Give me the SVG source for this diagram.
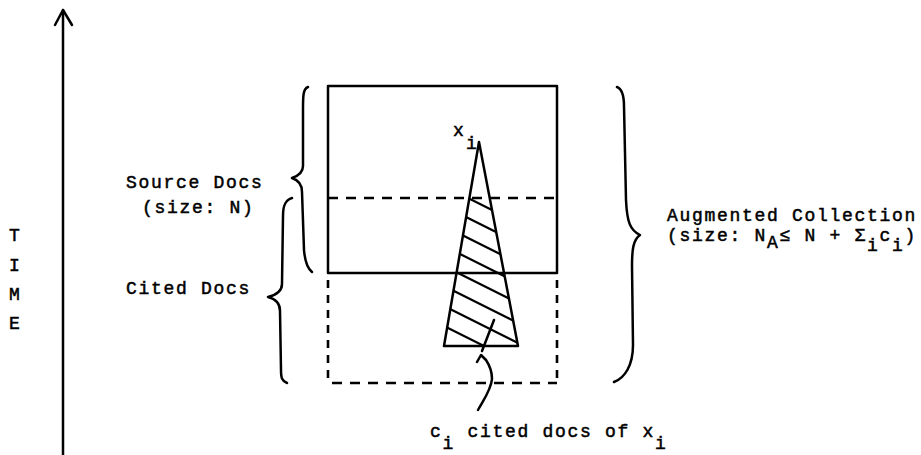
<svg xmlns="http://www.w3.org/2000/svg" width="921" height="455" viewBox="0 0 921 455">
<style>
.ln{fill:none;stroke:#000;stroke-width:2.5;stroke-linecap:round;stroke-linejoin:round}
.dh{fill:none;stroke:#000;stroke-width:2.6;stroke-dasharray:10 8}
.dv{fill:none;stroke:#000;stroke-width:2.6;stroke-dasharray:8 7}
.tx{font-family:"Liberation Mono","DejaVu Sans Mono",monospace;font-size:18px;letter-spacing:1.7px;fill:#000;stroke:#000;stroke-width:0.5}
.ht{stroke:#000;stroke-width:2.2;stroke-linecap:round}
</style>
<defs>
<clipPath id="hatchClip"><polygon points="469.4,198 489.7,198 518,346 444,346"/></clipPath>
</defs>
<rect width="921" height="455" fill="#fff"/>

<g id="time-axis">
<line class="ln" x1="63" y1="10" x2="63" y2="455"/>
<polyline class="ln" points="55,25 63,10 72,25"/>
<text class="tx" x="9" y="241">T</text>
<text class="tx" x="9" y="271">I</text>
<text class="tx" x="9" y="300">M</text>
<text class="tx" x="9" y="329">E</text>
</g>

<g id="source-docs">
<rect class="ln" x="328" y="86" width="229" height="187"/>
<path class="ln" d="M308,87 C303,89 303,96 303,110 L303,166 C303,172 298,176 292,178 C298,180 302,184 302,192 L304,250 C305,262 307,268 312,272"/>
<text class="tx" x="126" y="188">Source Docs</text>
<text class="tx" x="142" y="213">(size: N)</text>
</g>

<g id="cited-docs">
<line class="dh" x1="328" y1="198" x2="557" y2="198"/>
<polyline class="dv" points="328,280 328,383"/>
<polyline class="dv" points="557,280 557,383"/>
<line class="dh" x1="332" y1="383" x2="557" y2="383"/>
<path class="ln" d="M292,198 C285,200 283,206 283,216 L282,284 C282,291 276,295 268,297 C276,299 280,303 280,311 L281,370 C281,378 282,381 287,383"/>
<text class="tx" x="126" y="294">Cited Docs</text>
</g>

<g id="augmented-collection">
<path class="ln" d="M617,87 C622,89 624,95 624,106 L626,200 C627,222 630,230 640,235 C633,240 632,250 632,266 L633,345 C633,365 625,378 614,382"/>
<text class="tx" x="667" y="221">Augmented Collection</text>
<text class="tx" x="667" y="241">(size: N<tspan dy="7">A</tspan><tspan dy="-7">≤ N + Σ</tspan><tspan dy="10">i</tspan><tspan dy="-10">c</tspan><tspan dy="10">i</tspan><tspan dy="-10">)</tspan></text>
</g>

<g id="citation-cone">
<polygon class="ln" points="479,142 444,346 518,346"/>
<g clip-path="url(#hatchClip)">
<line class="ht" x1="430" y1="179" x2="530" y2="229"/>
<line class="ht" x1="430" y1="199" x2="530" y2="249"/>
<line class="ht" x1="430" y1="219" x2="530" y2="269"/>
<line class="ht" x1="430" y1="239" x2="530" y2="289"/>
<line class="ht" x1="430" y1="259" x2="530" y2="309"/>
<line class="ht" x1="430" y1="279" x2="530" y2="329"/>
<line class="ht" x1="430" y1="299" x2="530" y2="349"/>
<line class="ht" x1="430" y1="319" x2="530" y2="369"/>
</g>
<text class="tx" x="453" y="136">x</text>
<text class="tx" x="466" y="149">i</text>
</g>

<g id="connectors">
<path class="ln" d="M494,320 L482,351"/>
<path class="ln" d="M477,362 L481,355 L486,360 C490,366 492,371 492,379 C491,390 484,399 478,410"/>
</g>

<g id="cited-label">
<text class="tx" x="430" y="437">c<tspan dy="12">i</tspan><tspan dy="-12"> cited docs of x</tspan><tspan dy="12">i</tspan></text>
</g>
</svg>
